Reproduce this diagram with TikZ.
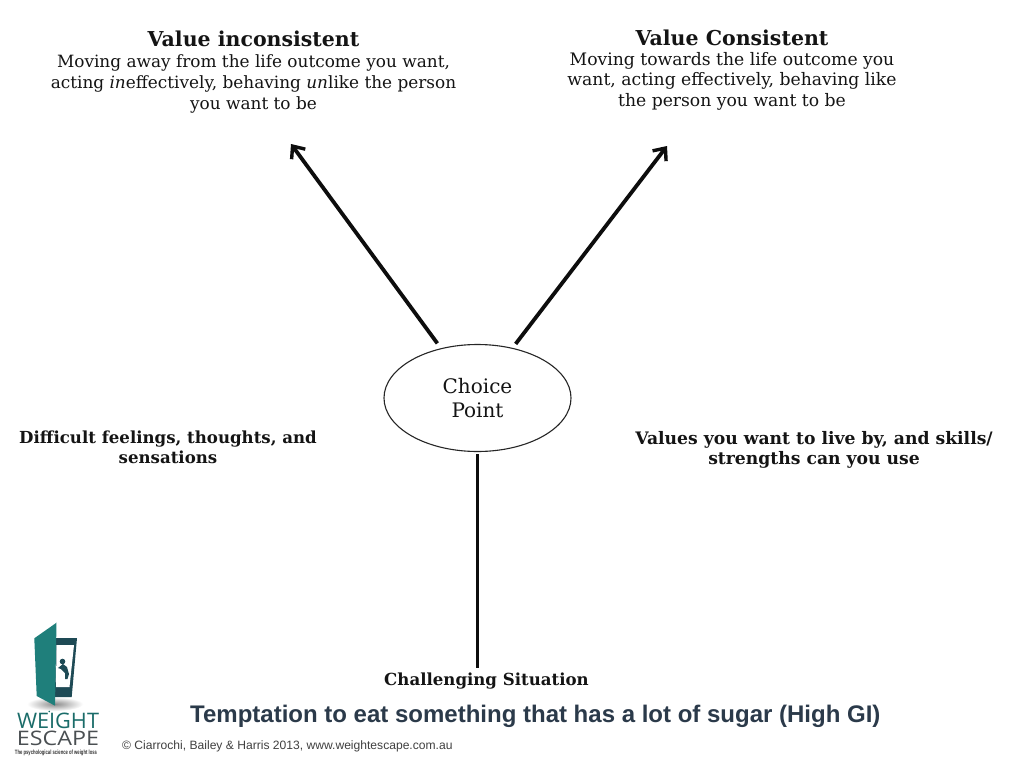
\documentclass[tikz,border=0pt]{standalone}
\usepackage{fontspec}
\setmainfont{DejaVu Serif}
\setsansfont{Liberation Sans}
\newfontfamily\logofont{Open Sans}
\usetikzlibrary{shapes.geometric,arrows.meta,shadings}
\definecolor{inktext}{HTML}{141414}
\definecolor{doorteal}{HTML}{1F7F7B}
\definecolor{framedark}{HTML}{1E4A55}
\definecolor{logogrey}{HTML}{4A4F52}
\definecolor{slatetext}{HTML}{2B3A4A}
\tikzset{
  x=1pt,y=-1pt,
  headtext/.style={font=\fontsize{16.9}{20.8}\selectfont,align=center,text=inktext,inner sep=0},
  boldtext/.style={font=\fontsize{16.6}{20.5}\selectfont\bfseries,align=center,text=inktext,inner sep=0},
  choicebox/.style={ellipse,draw=black!85,line width=1.1pt,fill=white,minimum width=187pt,minimum height=107pt,inner sep=0,align=center,font=\fontsize{20}{24.5}\selectfont,text=inktext},
  arrowline/.style={line width=3.8pt,draw=black!95,-{Straight Barb[length=10pt,width=17pt,line width=3.4pt]},shorten <=6pt},
  stemline/.style={line width=3.6pt,draw=black!95},
  sanstext/.style={font=\sffamily,inner sep=0,anchor=west}
}
\begin{document}
\begin{tikzpicture}
\useasboundingbox (0,0) rectangle (1024,768);
\fill[white] (0,0) rectangle (1024,768);

% text blocks
\node[headtext] (inconsistent) at (253.5,72) {{\fontsize{20.5}{20.8}\selectfont\bfseries Value inconsistent}\\Moving away from the life outcome you want,\\acting \textit{in}effectively, behaving \textit{un}like the person\\you want to be};
\node[headtext,font=\fontsize{17.2}{20.2}\selectfont] (consistent) at (732,70) {{\fontsize{20.5}{20.2}\selectfont\bfseries Value Consistent}\\Moving towards the life outcome you\\want, acting effectively, behaving like\\the person you want to be};
\node[boldtext] (difficult) at (168,447.5) {Difficult feelings, thoughts, and\\sensations};
\node[boldtext,font=\fontsize{17.2}{20.5}\selectfont\bfseries] (values) at (814,450) {Values you want to live by, and skills/\\strengths can you use};
\node[boldtext] (situation) at (486.5,681) {Challenging Situation};

% choice point and connectors
\node[choicebox] (choice) at (477.5,398) {Choice\\Point};
\coordinate (tipleft) at (291,144);
\coordinate (tipright) at (667,146);
\coordinate (stemend) at (477.5,668);
\coordinate (stemstart) at (477.5,454);
\draw[arrowline] (choice) -- (tipleft);
\draw[arrowline,shorten <=5pt] (choice.55) -- (tipright);
\draw[stemline] (stemstart) -- (stemend);

% bottom texts
\node[sanstext,text=slatetext,font=\fontsize{24}{26}\sffamily\bfseries\selectfont] (tempt) at (190,716) {Temptation to eat something that has a lot of sugar (High GI)};
\node[sanstext,text=black!75,font=\fontsize{12.1}{14}\sffamily\selectfont] (copy) at (122,746.5) {© Ciarrochi, Bailey \& Harris 2013, www.weightescape.com.au};

% logo
\shade[inner color=black!45,outer color=white] (55,704) ellipse (28 and 7);
\fill[framedark] (56,638) -- (77,638) -- (71.7,697) -- (55,697) -- cycle;
\fill[white] (56.5,645) -- (74,645) -- (69.5,687) -- (56,687) -- cycle;
\fill[framedark] (62.5,661.5) circle (2.8) (58,668) -- (63,664) -- (67,667) -- (69,674) -- (67.5,679) -- (65,679) -- (65,673) -- (61,669) -- cycle;
\fill[doorteal] (34.3,638.3) -- (56.5,622.7) -- (55,705.7) -- (36.7,696) -- cycle;
\node[inner sep=0,anchor=center,text=doorteal!85!black] (logoa) at (58,721) {\resizebox{82pt}{15.5pt}{\logofont WEIGHT}};
\fill[doorteal!85!black] (49.2,711.5) circle (0.9);
\node[inner sep=0,anchor=center,text=logogrey] (logob) at (58,738.5) {\resizebox{82pt}{14.5pt}{\logofont ESCAPE}};
\node[inner sep=0,anchor=center,text=black!80] (logoc) at (56,752.5) {\resizebox{82pt}{4.5pt}{\sffamily\bfseries The psychological science of weight loss}};
\end{tikzpicture}
\end{document}
